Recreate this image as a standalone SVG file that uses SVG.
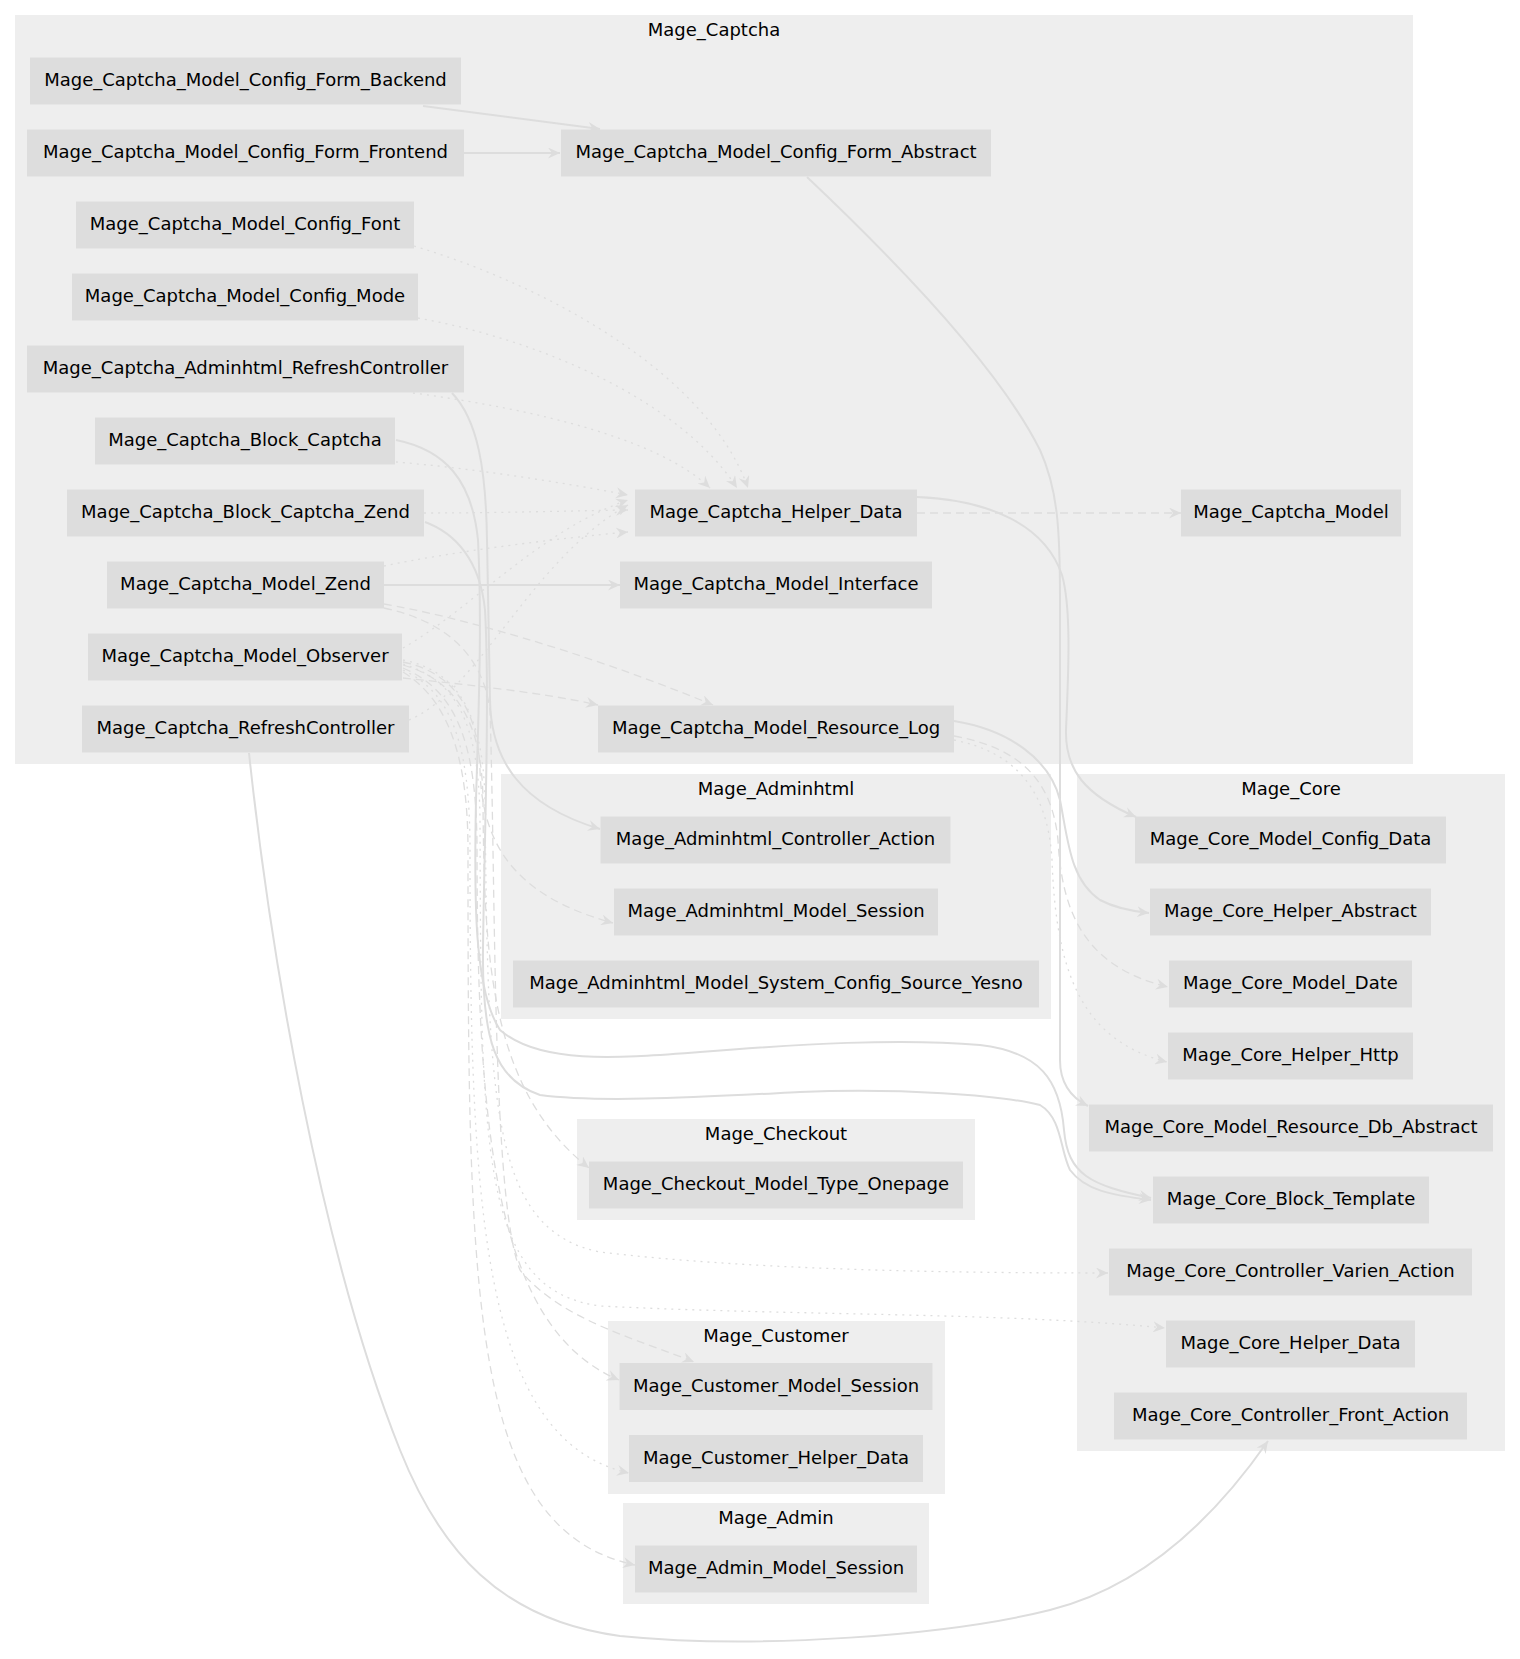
<svg xmlns="http://www.w3.org/2000/svg" width="1520" height="1659" viewBox="0 0 1520 1659">
<style>
.cl{fill:#eeeeee}
.nd{fill:#dddddd}
text{font-family:"DejaVu Sans","Liberation Sans",sans-serif;font-size:18px;fill:#000000;text-anchor:middle}
.e{fill:none;stroke:#dddddd}
.s{stroke-width:2}
.d{stroke-width:1.3;stroke-dasharray:8 5}
.o{stroke-width:1.3;stroke-dasharray:2 5}
</style>
<defs>
<marker id="a" markerUnits="userSpaceOnUse" markerWidth="13" markerHeight="11" refX="12" refY="5.5" orient="auto">
<path d="M0,0 L12,5.5 L0,11 L4,5.5 Z" fill="#dddddd"/>
</marker>
</defs>
<rect width="1520" height="1659" fill="#ffffff"/>
<g id="clusters">
<g id="cluster_Mage_Captcha"><rect class="cl" x="15" y="15" width="1398" height="749"/><text x="714" y="36">Mage_Captcha</text></g>
<g id="cluster_Mage_Adminhtml"><rect class="cl" x="501" y="774" width="550" height="245"/><text x="776" y="795">Mage_Adminhtml</text></g>
<g id="cluster_Mage_Core"><rect class="cl" x="1077" y="774" width="428" height="677"/><text x="1291" y="795">Mage_Core</text></g>
<g id="cluster_Mage_Checkout"><rect class="cl" x="577" y="1119" width="398" height="101"/><text x="776" y="1140">Mage_Checkout</text></g>
<g id="cluster_Mage_Customer"><rect class="cl" x="608" y="1321" width="337" height="173"/><text x="776" y="1342">Mage_Customer</text></g>
<g id="cluster_Mage_Admin"><rect class="cl" x="623" y="1503" width="306" height="101"/><text x="776" y="1524">Mage_Admin</text></g>
</g>
<g id="connectors">
<path class="e s" marker-end="url(#a)" d="M423,106 L600,129"/>
<path class="e s" marker-end="url(#a)" d="M464,153 L560,153"/>
<path class="e s" marker-end="url(#a)" d="M807,177 C900,265 1000,370 1040,450 C1058,490 1060,530 1060,600 L1060,1060 C1060,1085 1072,1098 1088,1106"/>
<path class="e s" marker-end="url(#a)" d="M917,497 C990,500 1045,525 1062,575 C1072,610 1068,680 1066,730 C1065,770 1085,795 1136,817"/>
<path class="e s" marker-end="url(#a)" d="M954,721 C1010,730 1050,760 1060,800 C1068,840 1070,880 1100,900 C1115,908 1130,911 1149,913"/>
<path class="e s" marker-end="url(#a)" d="M452,393 C478,420 486,470 487,540 L490,700 C491,760 520,805 600,829"/>
<path class="e s" marker-end="url(#a)" d="M396,440 C445,450 472,480 478,540 C482,620 479,700 476,800 C474,900 474,990 500,1030 C540,1065 620,1058 700,1052 C800,1044 900,1038 980,1045 C1040,1052 1060,1080 1064,1130 C1068,1175 1090,1185 1151,1198"/>
<path class="e s" marker-end="url(#a)" d="M425,522 C455,533 480,560 485,610 C490,700 484,850 483,950 C482,1040 495,1080 540,1095 C600,1103 700,1097 800,1092 C900,1088 1000,1095 1040,1105 C1062,1118 1060,1150 1070,1170 C1085,1190 1110,1195 1151,1200"/>
<path class="e s" marker-end="url(#a)" d="M249,753 C270,950 320,1250 400,1450 C440,1550 500,1620 620,1636 C760,1650 950,1635 1050,1610 C1150,1585 1220,1510 1268,1441"/>
<path class="e s" marker-end="url(#a)" d="M384,585 L620,585"/>
<path class="e d" marker-end="url(#a)" d="M917,513 L1181,513"/>
<path class="e d" marker-end="url(#a)" d="M384,604 C450,615 580,650 713,705"/>
<path class="e d" marker-end="url(#a)" d="M403,678 C460,684 540,692 598,705"/>
<path class="e d" marker-end="url(#a)" d="M403,662 C450,672 478,705 480,770 C482,840 510,895 613,923"/>
<path class="e d" marker-end="url(#a)" d="M403,665 C455,680 482,720 483,800 C484,960 490,1090 589,1168"/>
<path class="e d" marker-end="url(#a)" d="M403,668 C455,690 477,740 477,850 C477,1150 500,1330 619,1380"/>
<path class="e d" marker-end="url(#a)" d="M384,608 C440,620 482,650 490,710 C496,900 492,1200 520,1270 C560,1320 640,1340 694,1362"/>
<path class="e d" marker-end="url(#a)" d="M403,672 C445,698 468,750 468,850 C468,1300 470,1530 635,1565"/>
<path class="e d" marker-end="url(#a)" d="M954,736 C1020,748 1052,780 1058,840 C1062,920 1090,968 1168,987"/>
<path class="e o" marker-end="url(#a)" d="M414,246 C560,290 710,380 748,488"/>
<path class="e o" marker-end="url(#a)" d="M418,318 C540,340 680,400 737,488"/>
<path class="e o" marker-end="url(#a)" d="M413,393 C540,410 660,440 710,488"/>
<path class="e o" marker-end="url(#a)" d="M396,462 C470,468 560,482 628,495"/>
<path class="e o" marker-end="url(#a)" d="M424,513 C500,513 560,511 628,510"/>
<path class="e o" marker-end="url(#a)" d="M384,566 C450,552 560,538 628,532"/>
<path class="e o" marker-end="url(#a)" d="M403,648 C470,610 540,530 628,500"/>
<path class="e o" marker-end="url(#a)" d="M409,720 C480,690 530,560 628,505"/>
<path class="e o" marker-end="url(#a)" d="M403,670 C450,692 470,740 470,850 C470,1200 480,1440 629,1473"/>
<path class="e o" marker-end="url(#a)" d="M403,660 C455,670 483,710 485,800 C488,1100 490,1230 600,1252 C750,1270 950,1273 1108,1273"/>
<path class="e o" marker-end="url(#a)" d="M403,664 C455,680 479,720 480,820 C481,1150 480,1290 600,1306 C800,1316 1000,1312 1165,1328"/>
<path class="e o" marker-end="url(#a)" d="M954,740 C1015,752 1048,790 1052,860 C1056,970 1080,1040 1167,1062"/>
</g>
<g id="nodes">
<g id="Mage_Captcha_Model_Config_Form_Backend"><rect class="nd" x="30" y="57.5" width="431" height="47"/><text x="245.5" y="86">Mage_Captcha_Model_Config_Form_Backend</text></g>
<g id="Mage_Captcha_Model_Config_Form_Frontend"><rect class="nd" x="27" y="129.5" width="437" height="47"/><text x="245.5" y="158">Mage_Captcha_Model_Config_Form_Frontend</text></g>
<g id="Mage_Captcha_Model_Config_Font"><rect class="nd" x="76" y="201.5" width="338" height="47"/><text x="245" y="230">Mage_Captcha_Model_Config_Font</text></g>
<g id="Mage_Captcha_Model_Config_Mode"><rect class="nd" x="72" y="273.5" width="346" height="47"/><text x="245" y="302">Mage_Captcha_Model_Config_Mode</text></g>
<g id="Mage_Captcha_Adminhtml_RefreshController"><rect class="nd" x="27" y="345.5" width="437" height="47"/><text x="245.5" y="374">Mage_Captcha_Adminhtml_RefreshController</text></g>
<g id="Mage_Captcha_Block_Captcha"><rect class="nd" x="95" y="417.5" width="300" height="47"/><text x="245" y="446">Mage_Captcha_Block_Captcha</text></g>
<g id="Mage_Captcha_Block_Captcha_Zend"><rect class="nd" x="67" y="489.5" width="357" height="47"/><text x="245.5" y="518">Mage_Captcha_Block_Captcha_Zend</text></g>
<g id="Mage_Captcha_Model_Zend"><rect class="nd" x="107" y="561.5" width="277" height="47"/><text x="245.5" y="590">Mage_Captcha_Model_Zend</text></g>
<g id="Mage_Captcha_Model_Observer"><rect class="nd" x="88" y="633.5" width="314" height="47"/><text x="245" y="662">Mage_Captcha_Model_Observer</text></g>
<g id="Mage_Captcha_RefreshController"><rect class="nd" x="82" y="705.5" width="327" height="47"/><text x="245.5" y="734">Mage_Captcha_RefreshController</text></g>
<g id="Mage_Captcha_Model_Config_Form_Abstract"><rect class="nd" x="561" y="129.5" width="430" height="47"/><text x="776" y="158">Mage_Captcha_Model_Config_Form_Abstract</text></g>
<g id="Mage_Captcha_Helper_Data"><rect class="nd" x="635" y="489.5" width="282" height="47"/><text x="776" y="518">Mage_Captcha_Helper_Data</text></g>
<g id="Mage_Captcha_Model_Interface"><rect class="nd" x="620" y="561.5" width="312" height="47"/><text x="776" y="590">Mage_Captcha_Model_Interface</text></g>
<g id="Mage_Captcha_Model_Resource_Log"><rect class="nd" x="598" y="705.5" width="356" height="47"/><text x="776" y="734">Mage_Captcha_Model_Resource_Log</text></g>
<g id="Mage_Captcha_Model"><rect class="nd" x="1181" y="489.5" width="220" height="47"/><text x="1291" y="518">Mage_Captcha_Model</text></g>
<g id="Mage_Adminhtml_Controller_Action"><rect class="nd" x="600.5" y="816.5" width="350" height="47"/><text x="775.5" y="845">Mage_Adminhtml_Controller_Action</text></g>
<g id="Mage_Adminhtml_Model_Session"><rect class="nd" x="614" y="888.5" width="324" height="47"/><text x="776" y="917">Mage_Adminhtml_Model_Session</text></g>
<g id="Mage_Adminhtml_Model_System_Config_Source_Yesno"><rect class="nd" x="513" y="960.5" width="526" height="47"/><text x="776" y="989">Mage_Adminhtml_Model_System_Config_Source_Yesno</text></g>
<g id="Mage_Core_Model_Config_Data"><rect class="nd" x="1135" y="816.5" width="311" height="47"/><text x="1290.5" y="845">Mage_Core_Model_Config_Data</text></g>
<g id="Mage_Core_Helper_Abstract"><rect class="nd" x="1150" y="888.5" width="281" height="47"/><text x="1290.5" y="917">Mage_Core_Helper_Abstract</text></g>
<g id="Mage_Core_Model_Date"><rect class="nd" x="1169" y="960.5" width="243" height="47"/><text x="1290.5" y="989">Mage_Core_Model_Date</text></g>
<g id="Mage_Core_Helper_Http"><rect class="nd" x="1168" y="1032.5" width="245" height="47"/><text x="1290.5" y="1061">Mage_Core_Helper_Http</text></g>
<g id="Mage_Core_Model_Resource_Db_Abstract"><rect class="nd" x="1089" y="1104.5" width="404" height="47"/><text x="1291" y="1133">Mage_Core_Model_Resource_Db_Abstract</text></g>
<g id="Mage_Core_Block_Template"><rect class="nd" x="1153" y="1176.5" width="276" height="47"/><text x="1291" y="1205">Mage_Core_Block_Template</text></g>
<g id="Mage_Core_Controller_Varien_Action"><rect class="nd" x="1109" y="1248.5" width="363" height="47"/><text x="1290.5" y="1277">Mage_Core_Controller_Varien_Action</text></g>
<g id="Mage_Core_Helper_Data"><rect class="nd" x="1166" y="1320.5" width="249" height="47"/><text x="1290.5" y="1349">Mage_Core_Helper_Data</text></g>
<g id="Mage_Core_Controller_Front_Action"><rect class="nd" x="1114" y="1392.5" width="353" height="47"/><text x="1290.5" y="1421">Mage_Core_Controller_Front_Action</text></g>
<g id="Mage_Checkout_Model_Type_Onepage"><rect class="nd" x="589" y="1161.5" width="374" height="47"/><text x="776" y="1190">Mage_Checkout_Model_Type_Onepage</text></g>
<g id="Mage_Customer_Model_Session"><rect class="nd" x="619.5" y="1363" width="313" height="47"/><text x="776" y="1391.5">Mage_Customer_Model_Session</text></g>
<g id="Mage_Customer_Helper_Data"><rect class="nd" x="629" y="1435" width="294" height="47"/><text x="776" y="1463.5">Mage_Customer_Helper_Data</text></g>
<g id="Mage_Admin_Model_Session"><rect class="nd" x="635" y="1545.5" width="282" height="47"/><text x="776" y="1574">Mage_Admin_Model_Session</text></g>
</g>
</svg>
